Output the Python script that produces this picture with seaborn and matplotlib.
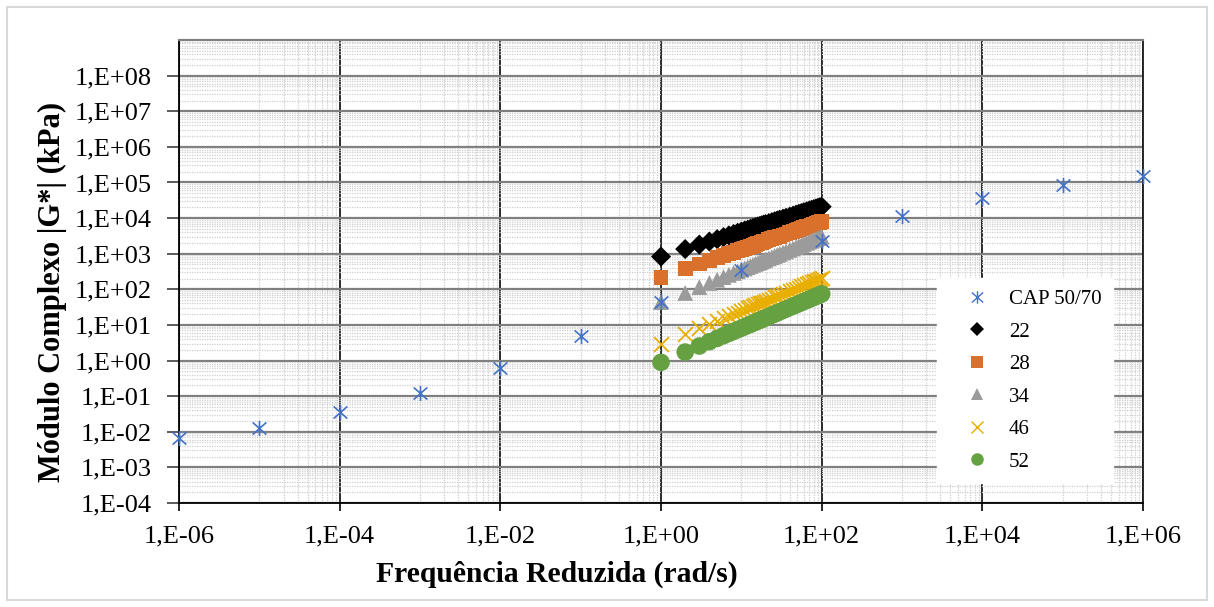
import numpy as np
import pandas as pd
import matplotlib
matplotlib.use("Agg")
import matplotlib.pyplot as plt
import matplotlib.ticker as mticker
from matplotlib.lines import Line2D
from matplotlib.patches import Rectangle
from matplotlib.path import Path
import seaborn as sns

# ---------------- data ----------------
cap_freq = [1e-6, 1e-5, 1e-4, 1e-3, 1e-2, 1e-1, 1e0, 1e1, 1e2, 1e3, 1e4, 1e5, 1e6]
cap_g = [0.0067, 0.0128, 0.036, 0.123, 0.62, 4.9, 45, 351, 2330, 11500, 37000, 85000, 155000]

freq = [1, 2, 3, 4, 5, 6, 7, 8, 9, 10, 11, 12, 13, 14, 15, 16, 17, 18, 19, 20,
        22, 24, 26, 28, 30, 33, 36, 40, 44, 48, 52, 56, 60, 65, 70, 75, 80, 85, 90, 95, 100]

g22 = [830, 1350, 1800, 2190, 2560, 2920, 3250, 3560, 3870, 4170, 4460, 4730, 5010, 5270,
       5530, 5790, 6040, 6300, 6530, 6780, 7230, 7690, 8150, 8570, 9000, 9620, 10200, 11000,
       11700, 12500, 13200, 13900, 14600, 15500, 16300, 17100, 17900, 18600, 19400, 20200, 20900]
g28 = [219, 376, 515, 646, 767, 885, 998, 1107, 1213, 1318, 1419, 1521, 1618, 1714, 1807,
       1901, 1991, 2084, 2178, 2265, 2438, 2606, 2780, 2944, 3105, 3350, 3581, 3890, 4188,
       4477, 4764, 5047, 5333, 5675, 6012, 6353, 6668, 6998, 7311, 7638, 7943]
g34 = [44, 79, 116, 151, 186, 221, 255, 288, 321, 355, 387, 420, 453, 485, 518, 550, 581,
       612, 644, 676, 738, 800, 863, 925, 986, 1079, 1167, 1288, 1406, 1524, 1644, 1762,
       1879, 2023, 2168, 2312, 2455, 2594, 2735, 2884, 3020]
g46 = [2.95, 5.58, 8.11, 10.57, 12.97, 15.35, 17.66, 20.0, 22.3, 24.5, 26.8, 29.0, 31.3,
       33.4, 35.6, 37.8, 40.0, 42.2, 44.4, 46.5, 50.7, 55.0, 59.2, 63.2, 67.5, 73.6, 79.8,
       87.9, 95.9, 104, 112, 120, 128, 137, 147, 157, 166, 176, 185, 195, 204]
g52 = [0.89, 1.73, 2.56, 3.37, 4.18, 4.98, 5.77, 6.56, 7.35, 8.13, 8.89, 9.68, 10.4, 11.2,
       12.0, 12.8, 13.5, 14.3, 15.1, 15.8, 17.3, 18.8, 20.3, 21.8, 23.3, 25.6, 27.8, 30.8,
       33.7, 36.6, 39.5, 42.5, 45.4, 49.0, 52.6, 56.2, 59.8, 63.4, 67.0, 70.6, 74.1]

labels = ["CAP 50/70", "22", "28", "34", "46", "52"]
x_label = "Frequência Reduzida (rad/s)"
y_label = "Módulo Complexo |G*| (kPa)"

# ---------------- style ----------------
sns.set_theme(style="white")
plt.rcParams["font.family"] = ["Liberation Serif", "DejaVu Serif"]

c_blue = "#4472C4"
c_black = "#000000"
c_orange = "#D9702B"
c_gray = "#9B9B9B"
c_yellow = "#E8AE00"
c_green = "#65A041"

# Excel-style "star" marker: an X with a vertical bar
star = Path([(0, -1), (0, 1), (-0.9, -0.8), (0.9, 0.8), (-0.9, 0.8), (0.9, -0.8)],
            [Path.MOVETO, Path.LINETO, Path.MOVETO, Path.LINETO, Path.MOVETO, Path.LINETO])

fig = plt.figure(figsize=(12.14, 6.07), dpi=100)
ax = fig.add_axes([179 / 1214, 1 - 503 / 607, (1143 - 179) / 1214, (503 - 40) / 607])

ax.set_xscale("log")
ax.set_yscale("log")
ax.set_xlim(1e-6, 1e6)
ax.set_ylim(1e-4, 1e9)

# grid lines
xmaj = [10.0 ** e for e in range(-6, 7, 2)]
xmin = [k * 10.0 ** e for e in range(-5, 6, 2) for k in range(1, 10)]
ymaj = [10.0 ** e for e in range(-4, 9)]
ymin = [k * 10.0 ** e for e in range(-4, 9) for k in range(2, 10)]

ax.xaxis.set_major_locator(mticker.FixedLocator(xmaj))
ax.xaxis.set_minor_locator(mticker.FixedLocator(xmin))
ax.yaxis.set_major_locator(mticker.FixedLocator(ymaj))
ax.yaxis.set_minor_locator(mticker.FixedLocator(ymin))

def fmt(v, pos):
    e = int(round(np.log10(v)))
    return f"1,E{e:+03d}"

ax.xaxis.set_major_formatter(mticker.FuncFormatter(fmt))
ax.yaxis.set_major_formatter(mticker.FuncFormatter(fmt))
ax.xaxis.set_minor_formatter(mticker.NullFormatter())
ax.yaxis.set_minor_formatter(mticker.NullFormatter())

ax.grid(which="minor", axis="both", color="#cfcfcf", linestyle=(0, (1, 1)), linewidth=0.9, zorder=0)
ax.grid(which="major", axis="x", color="#1a1a1a", linestyle="-", linewidth=1.3, zorder=0.5)
ax.grid(which="major", axis="y", color="#7f7f7f", linestyle="-", linewidth=1.6, zorder=0.5)
ax.set_axisbelow(True)

ax.tick_params(axis="y", which="major", direction="out", length=9, width=1.2, color="#404040",
               labelsize=19, pad=10.5, left=True)
ax.tick_params(axis="x", which="major", direction="out", length=6, width=1.2, color="#000000",
               labelsize=19, pad=10, bottom=True)
ax.tick_params(which="minor", length=0)
for lab in ax.get_xticklabels() + ax.get_yticklabels():
    lab.set_color("#000000")

for side in ["left", "bottom"]:
    ax.spines[side].set_color("#000000")
    ax.spines[side].set_linewidth(1.3)
ax.spines["top"].set_color("#808080")
ax.spines["top"].set_linewidth(1.6)
ax.spines["right"].set_color("#1a1a1a")
ax.spines["right"].set_linewidth(1.3)

# ---------------- series ----------------
df_t = pd.DataFrame({"f": freq, "22": g22, "28": g28, "34": g34, "46": g46, "52": g52})
df_cap = pd.DataFrame({"f": cap_freq, "g": cap_g})

sns.scatterplot(data=df_t, x="f", y="22", ax=ax, marker="D", s=105, color=c_black,
                edgecolor="none", linewidth=0, zorder=3, legend=False)
sns.scatterplot(data=df_t, x="f", y="28", ax=ax, marker="s", s=115, color=c_orange,
                edgecolor="none", linewidth=0, zorder=4, legend=False)
sns.scatterplot(data=df_t, x="f", y="34", ax=ax, marker="^", s=130, color=c_gray,
                edgecolor="none", linewidth=0, zorder=5, legend=False)
sns.scatterplot(data=df_t, x="f", y="46", ax=ax, marker="x", s=115, color=c_yellow,
                linewidth=1.3, zorder=6, legend=False)
sns.scatterplot(data=df_t, x="f", y="52", ax=ax, marker="o", s=160, color=c_green,
                edgecolor="none", linewidth=0, zorder=7, legend=False)
sns.scatterplot(data=df_cap, x="f", y="g", ax=ax, marker=star, s=120, color=c_blue,
                edgecolor=c_blue, linewidth=1.2, zorder=8, legend=False, clip_on=False)

ax.set_xlabel("")
ax.set_ylabel("")

# ---------------- legend ----------------
handles = [
    Line2D([], [], linestyle="none", marker=star, markersize=9, markeredgecolor=c_blue,
           markerfacecolor=c_blue, markeredgewidth=1.0),
    Line2D([], [], linestyle="none", marker="D", markersize=7, color=c_black, markeredgewidth=0),
    Line2D([], [], linestyle="none", marker="s", markersize=8, color=c_orange, markeredgewidth=0),
    Line2D([], [], linestyle="none", marker="^", markersize=9, color=c_gray, markeredgewidth=0),
    Line2D([], [], linestyle="none", marker="x", markersize=9, color=c_yellow, markeredgewidth=1.0),
    Line2D([], [], linestyle="none", marker="o", markersize=9, color=c_green, markeredgewidth=0),
]
leg = fig.legend(handles, labels, loc="upper left", bbox_to_anchor=(937 / 1214, 1 - 278 / 607),
                 bbox_transform=fig.transFigure, frameon=True, fancybox=False, fontsize=15,
                 labelspacing=0.62, handlelength=2.7, handletextpad=0.2, borderpad=0.55,
                 borderaxespad=0)
leg.get_frame().set_facecolor("white")
leg.get_frame().set_edgecolor("white")
leg.get_frame().set_alpha(1)
leg.set_zorder(20)
for t in leg.get_texts():
    t.set_color("#000000")

# ---------------- axis titles ----------------
fig.text(557 / 1214, 1 - 574 / 607, x_label, ha="center", va="center", fontsize=21.3,
         fontweight="bold", color="#000000")
fig.text(52 / 1214, 1 - 292 / 607, y_label, ha="center", va="center", fontsize=22,
         fontweight="bold", rotation=90, color="#000000")

# outer chart-area border
fig.patches.append(Rectangle((7 / 1214, 7 / 607), 1 - 14 / 1214, 1 - 14 / 607,
                             transform=fig.transFigure, fill=False, edgecolor="#d9d9d9",
                             linewidth=1.5, zorder=0))

fig.savefig("out.png", dpi=100, facecolor="white")
